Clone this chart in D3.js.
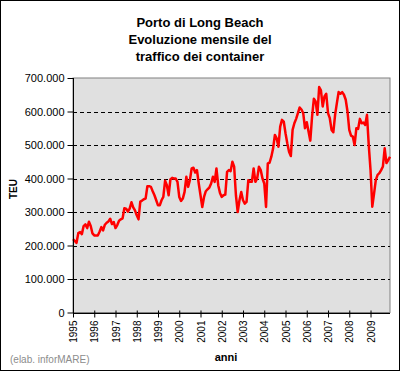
<!DOCTYPE html>
<html>
<head>
<meta charset="utf-8">
<script src="https://cdn.jsdelivr.net/npm/d3@7"></script>
<style>
  body { margin: 0; background: #fff; }
  svg { display: block; font-family: "Liberation Sans", Arial, sans-serif; }
</style>
</head>
<body>
<svg id="chart" width="400" height="371"></svg>
<script>
// Porto di Long Beach, monthly TEU, Jan 1995 - Dec 2009 (thousands)
const years = d3.range(1995, 2010);
const teu1995 = [219, 214, 208, 237, 240, 234, 258, 263, 252, 271, 258, 236];
const teu1996 = [230, 230, 230, 241, 255, 245, 262, 268, 272, 280, 264, 270];
const teu1997 = [252, 261, 274, 278, 281, 311, 310, 301, 310, 329, 314, 305];
const teu1998 = [290, 278, 331, 334, 338, 340, 377, 377, 375, 362, 350, 335];
const teu1999 = [320, 320, 335, 345, 393, 380, 350, 397, 402, 400, 400, 390];
const teu2000 = [345, 333, 340, 360, 405, 375, 395, 430, 432, 418, 425, 385];
const teu2001 = [350, 315, 345, 362, 368, 373, 385, 405, 390, 430, 380, 357];
const teu2002 = [345, 350, 352, 420, 425, 422, 450, 435, 350, 300, 335, 360];
const teu2003 = [335, 325, 330, 395, 390, 390, 430, 390, 400, 435, 425, 400];
const teu2004 = [385, 315, 445, 447, 465, 490, 530, 520, 495, 555, 575, 570];
const teu2005 = [535, 505, 480, 467, 545, 565, 578, 595, 612, 606, 595, 550];
const teu2006 = [568, 540, 513, 585, 638, 630, 590, 673, 663, 615, 645, 653];
const teu2007 = [595, 580, 545, 538, 590, 625, 658, 653, 658, 650, 635, 600];
const teu2008 = [545, 528, 525, 500, 550, 548, 578, 565, 567, 560, 590, 500];
const teu2009 = [426, 316, 355, 396, 411, 416, 425, 436, 490, 446, 455, 465];
const yTicks = [0, 100000, 200000, 300000, 400000, 500000, 600000, 700000];

const values = [].concat(teu1995, teu1996, teu1997, teu1998, teu1999, teu2000,
  teu2001, teu2002, teu2003, teu2004, teu2005, teu2006, teu2007, teu2008, teu2009)
  .map((v) => v * 1000);

const svg = d3.select("#chart");
const width = 400;
const height = 371;
const marginLeft = 73;
const marginRight = 10;
const marginTop = 78;
const plotBottom = 312.5;

const x = d3.scaleLinear([0, values.length - 1], [marginLeft, width - marginRight]);
const y = d3.scaleLinear([0, 700000], [plotBottom, marginTop]);

// outer frame
svg.append("rect")
  .attr("x", 0.5).attr("y", 0.5)
  .attr("width", width - 1).attr("height", height - 1)
  .attr("fill", "#fff").attr("stroke", "#000");

// plot area
svg.append("rect")
  .attr("x", marginLeft).attr("y", marginTop)
  .attr("width", width - marginRight - marginLeft)
  .attr("height", plotBottom - marginTop)
  .attr("fill", "#e0e0e0").attr("stroke", "#808080");

// dashed grid
svg.append("g")
  .selectAll("line")
  .data(yTicks.filter((d) => d > 0 && d < 700000))
  .join("line")
  .attr("x1", marginLeft).attr("x2", width - marginRight)
  .attr("y1", (d) => Math.round(y(d)) + 0.5).attr("y2", (d) => Math.round(y(d)) + 0.5)
  .attr("stroke", "#000")
  .attr("stroke-dasharray", "4,3");

// the series
const line = d3.line()
  .x((d, i) => x(i))
  .y((d) => y(d));

svg.append("path")
  .datum(values)
  .attr("fill", "none")
  .attr("stroke", "#ff0000")
  .attr("stroke-width", 2.5)
  .attr("stroke-linejoin", "round")
  .attr("d", line);

// y axis
svg.append("g")
  .attr("transform", `translate(${marginLeft + 0.5},0)`)
  .call(d3.axisLeft(y)
    .tickValues(yTicks)
    .tickSize(6)
    .tickPadding(3)
    .tickFormat((d) => d3.format(",")(d).replace(/,/g, ".")))
  .call((g) => g.select(".domain").attr("stroke", "#000").attr("d", `M0,${marginTop}V${plotBottom}`))
  .call((g) => g.selectAll("text")
    .attr("fill", "#000")
    .attr("font-size", 11)
    .attr("font-family", "Liberation Sans, Arial, sans-serif"));

// x axis
svg.append("g")
  .attr("transform", `translate(0,${Math.round(plotBottom) + 0.5})`)
  .call(d3.axisBottom(x)
    .tickValues(years.map((yr, i) => i * 12))
    .tickSize(4)
    .tickFormat((d, i) => years[i]))
  .call((g) => g.select(".domain").attr("stroke", "#000").attr("d", `M${marginLeft},0H${width - marginRight}`))
  .call((g) => g.selectAll(".tick line").attr("y1", -3).attr("y2", 4).attr("stroke", "#000"))
  .call((g) => g.selectAll(".tick text")
    .attr("fill", "#000")
    .attr("font-size", 10)
    .attr("font-family", "Liberation Sans, Arial, sans-serif")
    .attr("transform", "rotate(-90)")
    .attr("text-anchor", "end")
    .attr("x", -7)
    .attr("y", 0)
    .attr("dy", "0.35em"));

// titles
const title = ["Porto di Long Beach", "Evoluzione mensile del", "traffico dei container"];
svg.append("g")
  .selectAll("text")
  .data(title)
  .join("text")
  .attr("x", 200)
  .attr("y", (d, i) => 27 + i * 17)
  .attr("text-anchor", "middle")
  .attr("font-weight", "bold")
  .attr("font-size", 13)
  .text((d) => d);

svg.append("text")
  .attr("transform", "translate(17,189) rotate(-90)")
  .attr("text-anchor", "middle")
  .attr("font-weight", "bold")
  .attr("font-size", 10)
  .text("TEU");

svg.append("text")
  .attr("x", 226)
  .attr("y", 361)
  .attr("text-anchor", "middle")
  .attr("font-weight", "bold")
  .attr("font-size", 11)
  .text("anni");

svg.append("text")
  .attr("x", 10)
  .attr("y", 363)
  .attr("fill", "#8c8c8c")
  .attr("font-size", 10)
  .text("(elab. inforMARE)");
</script>
</body>
</html>
